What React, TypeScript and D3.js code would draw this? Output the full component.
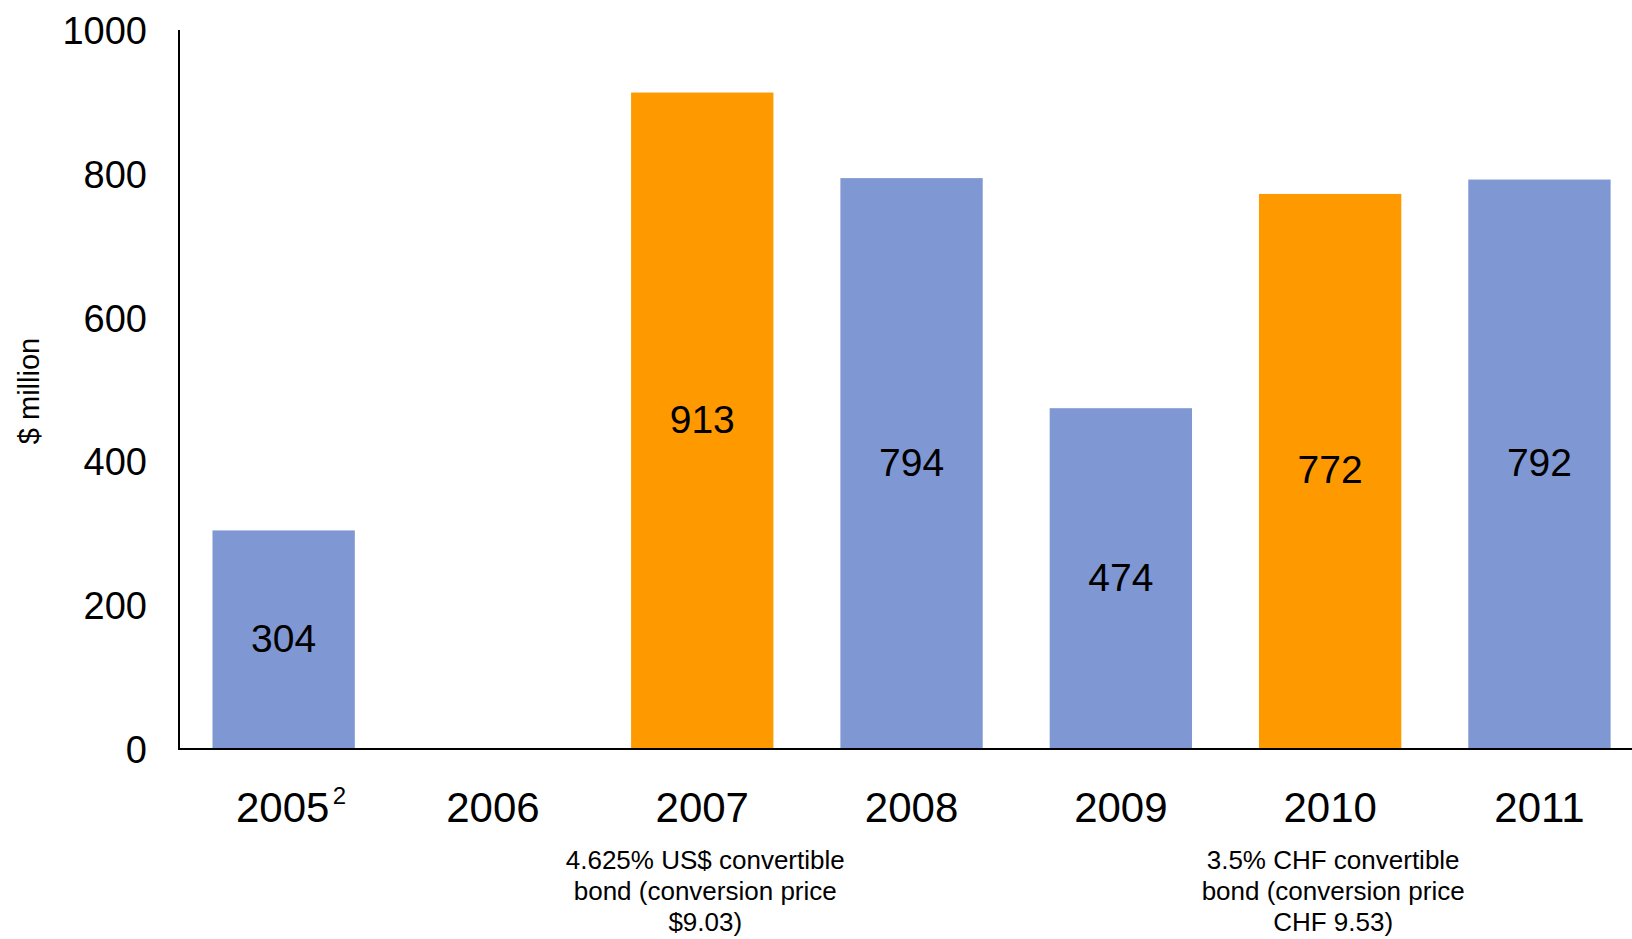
import React from "react";
import * as d3 from "d3";

const years = ["2005", "2006", "2007", "2008", "2009", "2010", "2011"];
const values: (number | null)[] = [304, null, 913, 794, 474, 772, 792];
const isConvertible = [false, false, true, false, false, true, false];
const yTicks = [0, 200, 400, 600, 800, 1000];
const notes: Record<string, string[]> = {
  "2007": ["4.625% US$ convertible", "bond (conversion price", "$9.03)"],
  "2010": ["3.5% CHF convertible", "bond (conversion price", "CHF 9.53)"],
};

const W = 1632;
const H = 939;
const FONT = "'Liberation Sans', Arial, Helvetica, sans-serif";
const BLUE = "#7F97D2";
const ORANGE = "#FF9900";

export default function App() {
  const x0 = 179;
  const step = 209.3;
  const x = d3
    .scaleBand<string>()
    .domain(years)
    .range([x0, x0 + step * years.length])
    .paddingInner(0.32)
    .paddingOuter(0.16);
  const y = d3.scaleLinear().domain([0, 1000]).range([749, 30]);

  return (
    <svg
      width={W}
      height={H}
      style={{ position: "absolute", left: 0, top: 0, background: "#fff" }}
      fontFamily={FONT}
    >
      {years.map((yr, i) => {
        const v = values[i];
        if (v == null) return null;
        const bx = x(yr)!;
        return (
          <g key={yr}>
            <rect
              x={bx}
              y={y(v)}
              width={x.bandwidth()}
              height={y(0) - y(v)}
              fill={isConvertible[i] ? ORANGE : BLUE}
            />
            <text
              x={bx + x.bandwidth() / 2}
              y={(y(v) + y(0)) / 2 + 12}
              textAnchor="middle"
              fontSize={39}
              fill="#000"
            >
              {v}
            </text>
          </g>
        );
      })}
      {/* axes */}
      <line x1={x0} x2={x0} y1={y(1000)} y2={y(0)} stroke="#000" strokeWidth={2} />
      <line x1={x0 - 1} x2={W} y1={y(0)} y2={y(0)} stroke="#000" strokeWidth={2} />
      {yTicks.map((t) => (
        <text key={t} x={147} y={y(t) + 14} textAnchor="end" fontSize={38} fill="#000">
          {t}
        </text>
      ))}
      <text
        transform={`translate(39, 391) rotate(-90)`}
        textAnchor="middle"
        fontSize={29}
        fill="#000"
      >
        $ million
      </text>
      {years.map((yr) => {
        const cx = x(yr)! + x.bandwidth() / 2;
        if (yr === "2005") {
          return (
            <g key={yr}>
              <text x={cx - 1} y={822} textAnchor="middle" fontSize={42} fill="#000">
                {yr}
              </text>
              <text x={cx + 49} y={804} textAnchor="start" fontSize={24} fill="#000">
                2
              </text>
            </g>
          );
        }
        return (
          <text key={yr} x={cx} y={822} textAnchor="middle" fontSize={42} fill="#000">
            {yr}
          </text>
        );
      })}
      {Object.keys(notes).map((yr) => {
        const cx = x(yr)! + x.bandwidth() / 2 + 3;
        return (
          <text key={yr} textAnchor="middle" fontSize={26} fill="#000">
            {notes[yr].map((line, j) => (
              <tspan key={j} x={cx} y={869 + j * 31}>
                {line}
              </tspan>
            ))}
          </text>
        );
      })}
    </svg>
  );
}
